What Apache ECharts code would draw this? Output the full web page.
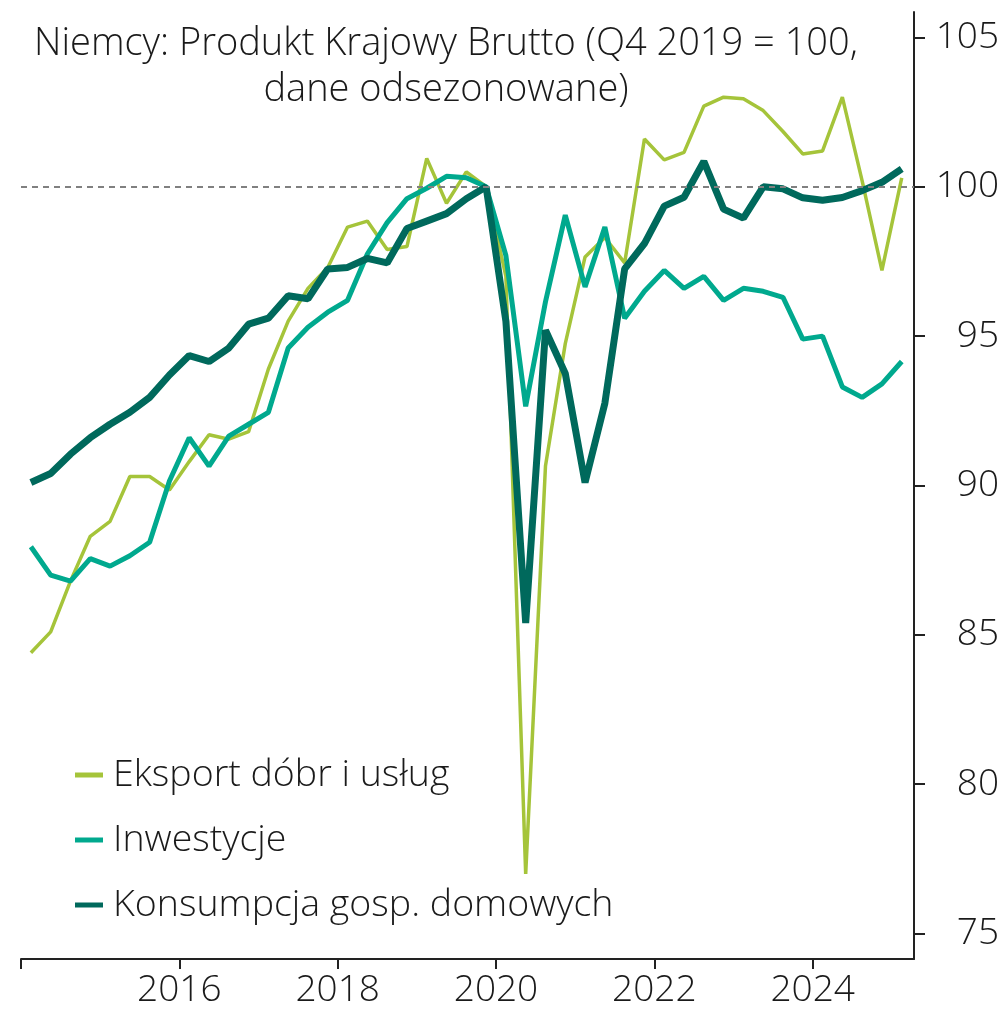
<!DOCTYPE html>
<html>
<head>
<meta charset="utf-8">
<script src="https://cdn.jsdelivr.net/npm/echarts@6/dist/echarts.min.js"></script>
<style>
html,body{margin:0;padding:0;background:#fff;}
#chart{width:1005px;height:1012px;}
</style>
</head>
<body>
<div id="chart"></div>
<script>
const quarters = [
 '2014 Q1','2014 Q2','2014 Q3','2014 Q4','2015 Q1','2015 Q2','2015 Q3','2015 Q4',
 '2016 Q1','2016 Q2','2016 Q3','2016 Q4','2017 Q1','2017 Q2','2017 Q3','2017 Q4',
 '2018 Q1','2018 Q2','2018 Q3','2018 Q4','2019 Q1','2019 Q2','2019 Q3','2019 Q4',
 '2020 Q1','2020 Q2','2020 Q3','2020 Q4','2021 Q1','2021 Q2','2021 Q3','2021 Q4',
 '2022 Q1','2022 Q2','2022 Q3','2022 Q4','2023 Q1','2023 Q2','2023 Q3','2023 Q4',
 '2024 Q1','2024 Q2','2024 Q3','2024 Q4','2025 Q1'
];
const eksport = [84.4,85.1,86.8,88.3,88.8,90.3,90.3,89.85,90.8,91.7,91.55,91.8,93.9,95.5,96.6,97.3,
 98.65,98.85,97.9,98.0,100.95,99.45,100.5,100,97.0,77.0,90.65,94.75,97.65,98.3,97.45,101.6,
 100.9,101.15,102.7,103.0,102.95,102.55,101.85,101.1,101.2,103.0,100.2,97.2,100.3];
const inwestycje = [87.95,87.0,86.8,87.55,87.3,87.65,88.1,90.15,91.6,90.65,91.65,92.05,92.45,94.6,95.3,95.8,
 96.2,97.75,98.8,99.6,99.95,100.35,100.3,100,97.7,92.65,96.15,99.05,96.65,98.65,95.6,96.5,
 97.2,96.6,97.0,96.2,96.6,96.5,96.3,94.9,95.0,93.3,92.95,93.4,94.15];
const konsumpcja = [90.1,90.4,91.05,91.6,92.05,92.45,92.95,93.7,94.35,94.15,94.6,95.4,95.6,96.35,96.25,97.25,
 97.3,97.6,97.45,98.6,98.85,99.1,99.6,100,95.5,85.4,95.2,93.75,90.1,92.75,97.25,98.1,
 99.35,99.65,100.85,99.25,98.95,100.0,99.93,99.63,99.55,99.64,99.87,100.15,100.6];
const seriesNames = ['Eksport dóbr i usług','Inwestycje','Konsumpcja gosp. domowych'];
const xTickValues = [2014,2016,2018,2020,2022,2024];
const xLabelValues = [2016,2018,2020,2022,2024];
const yTickValues = [75,80,85,90,95,100,105];
const titleText = 'Niemcy: Produkt Krajowy Brutto (Q4 2019 = 100,\ndane odsezonowane)';

function qpos(s){ const p=s.split(' Q'); return +p[0] + (+p[1]-0.5)/4; }
function pairs(arr){ return arr.map((v,i)=>[qpos(quarters[i]), v]); }

const FONT = '"Open Sans", Lato, sans-serif';
const chart = echarts.init(document.getElementById('chart'));
chart.setOption({
  animation:false,
  backgroundColor:'#fff',
  grid:{left:21,right:91,top:12,bottom:53,containLabel:false},
  graphic:[{
    type:'text', x:446, y:21,
    style:{text:titleText, textAlign:'center', textVerticalAlign:'top',
      fontFamily:FONT, fontSize:38, fontWeight:300, lineHeight:46, fill:'#1a1a1a'}
  }],
  legend:{
    orient:'vertical', left:75, top:756, itemGap:27, padding:0,
    itemWidth:28, itemHeight:5, icon:'rect',
    textStyle:{fontFamily:FONT, fontSize:37.5, fontWeight:300, color:'#1a1a1a', padding:[0,0,0,5]},
    data:seriesNames
  },
  xAxis:{
    type:'value', min:2014, max:2025.28,
    axisLine:{show:true, onZero:false, lineStyle:{color:'#222', width:2}},
    axisTick:{show:true, customValues:xTickValues, length:10, lineStyle:{color:'#222', width:2}},
    axisLabel:{customValues:xLabelValues, margin:13, formatter:function(v){return String(v);},
      fontFamily:FONT, fontSize:37, fontWeight:300, color:'#1a1a1a'},
    splitLine:{show:false}
  },
  yAxis:{
    type:'value', position:'right', min:74.15, max:105.85,
    axisLine:{show:true, lineStyle:{color:'#222', width:2}},
    axisTick:{show:true, customValues:yTickValues, length:11, lineStyle:{color:'#222', width:2}},
    axisLabel:{customValues:yTickValues, margin:85, align:'right', fontFamily:FONT, fontSize:37, fontWeight:300, color:'#1a1a1a'},
    splitLine:{show:false}
  },
  series:[
    {name:seriesNames[0], type:'line', data:pairs(eksport), showSymbol:false, symbol:'none',
     lineStyle:{color:'#a5c43a', width:3.5}, itemStyle:{color:'#a5c43a'},
     markLine:{silent:true, symbol:'none', label:{show:false},
       lineStyle:{color:'#808080', type:[6,5], width:2}, data:[{yAxis:100}]}},
    {name:seriesNames[1], type:'line', data:pairs(inwestycje), showSymbol:false, symbol:'none',
     lineStyle:{color:'#00a98e', width:5}, itemStyle:{color:'#00a98e'}},
    {name:seriesNames[2], type:'line', data:pairs(konsumpcja), showSymbol:false, symbol:'none',
     lineStyle:{color:'#00695c', width:7}, itemStyle:{color:'#00695c'}}
  ]
});
</script>
</body>
</html>
